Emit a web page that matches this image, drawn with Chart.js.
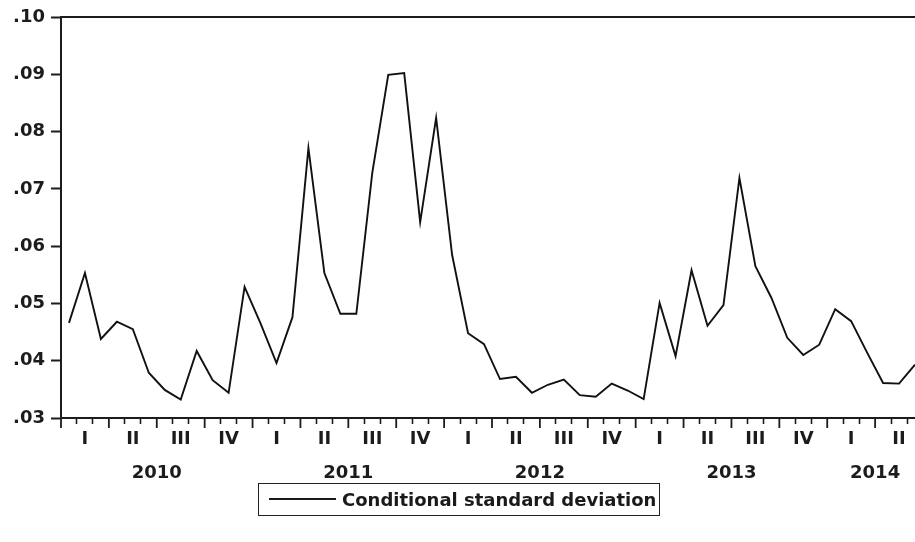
<!DOCTYPE html>
<html>
<head>
<meta charset="utf-8">
<script src="https://cdn.jsdelivr.net/npm/chart.js@4.4.1/dist/chart.umd.min.js"></script>
<style>
  html, body { margin: 0; padding: 0; background: #fff; overflow: hidden; width: 915px; height: 542px; }
  #wrap { position: relative; width: 930px; height: 542px; }
  canvas { position: absolute; left: 0; top: 0; }
  #legend {
    position: absolute; left: 258px; top: 483px; width: 402px; height: 33px;
    box-sizing: border-box; border: 1.5px solid #222;
    font: bold 18px "DejaVu Sans", sans-serif; color: #1a1a1a;
  }
  #legend .swatch { position: absolute; left: 10px; top: 14px; width: 67px; height: 0; border-top: 2px solid #1a1a1a; }
  #legend .text { position: absolute; left: 83px; top: 50%; transform: translateY(-52%); white-space: nowrap; }
</style>
</head>
<body>
<div id="wrap">
  <canvas id="c" width="930" height="542"></canvas>
  <div id="legend"><span class="swatch"></span><span class="text" id="legendText"></span></div>
</div>
<script>
// Monthly conditional standard deviation, January 2010 – June 2014
const seriesName = 'Conditional standard deviation';
const sd2010 = [0.0466, 0.0553, 0.0438, 0.0468, 0.0455, 0.0379, 0.0349, 0.0332, 0.0417, 0.0366, 0.0344, 0.0529];
const sd2011 = [0.0465, 0.0396, 0.0476, 0.0771, 0.0553, 0.0482, 0.0482, 0.0728, 0.0899, 0.0902, 0.0642, 0.0824];
const sd2012 = [0.0585, 0.0448, 0.0429, 0.0368, 0.0372, 0.0344, 0.0358, 0.0367, 0.0340, 0.0337, 0.0360, 0.0348];
const sd2013 = [0.0333, 0.0501, 0.0408, 0.0558, 0.0461, 0.0497, 0.0719, 0.0565, 0.0510, 0.0440, 0.0410, 0.0428];
const sd2014 = [0.0490, 0.0469, 0.0414, 0.0361, 0.0360, 0.0393];

const years = ['2010', '2011', '2012', '2013', '2014'];
const quarterNames = ['I', 'II', 'III', 'IV'];
const yTickValues = [0.03, 0.04, 0.05, 0.06, 0.07, 0.08, 0.09, 0.10];

// Series on a month axis: month i occupies [i, i+1], plotted at its middle
const values = [].concat(sd2010, sd2011, sd2012, sd2013, sd2014);
const nMonths = values.length;
const points = values.map((v, i) => ({ x: i + 0.5, y: v }));

// Month boundaries get tick marks; quarter midpoints carry the roman numerals;
// year names sit at the middle of each year's observed months.
const boundaryTicks = [];
for (let m = 0; m <= nMonths; m++) boundaryTicks.push(m);
const quarterCenters = [];
for (let q = 0; q * 3 < nMonths; q++) quarterCenters.push(q * 3 + 1.5);
const yearCenters = years.map((y, k) => {
  const start = k * 12;
  const end = Math.min(nMonths, start + 12);
  return (start + end) / 2;
});
const xTickValues = boundaryTicks.concat(quarterCenters).sort((a, b) => a - b);

function xLabel(v) {
  const qi = quarterCenters.indexOf(v);
  if (qi >= 0) return quarterNames[qi % 4];
  const yi = yearCenters.indexOf(v);
  if (yi >= 0) return ['', years[yi]];
  return '';
}

const INK = '#1c1c1c';
const FONT = { family: '"DejaVu Sans", sans-serif', size: 18, weight: 'bold' };

// Plot frame (top/right) and the longer marks at quarter boundaries
const framePlugin = {
  id: 'frame',
  afterDraw(chart) {
    const { ctx, chartArea: a, scales } = chart;
    ctx.save();
    ctx.strokeStyle = INK;
    ctx.lineWidth = 2;
    ctx.beginPath();
    ctx.moveTo(a.left, a.top);
    ctx.lineTo(a.right, a.top);
    ctx.lineTo(a.right, a.bottom);
    ctx.stroke();
    ctx.lineWidth = 1.8;
    ctx.beginPath();
    for (let m = 0; m <= nMonths; m += 3) {
      const px = scales.x.getPixelForValue(m);
      ctx.moveTo(px, a.bottom);
      ctx.lineTo(px, a.bottom + 10);
    }
    ctx.stroke();
    ctx.restore();
  }
};

document.getElementById('legendText').textContent = seriesName;

new Chart(document.getElementById('c'), {
  type: 'line',
  data: {
    datasets: [{
      label: seriesName,
      data: points,
      borderColor: '#111',
      borderWidth: 1.9,
      pointRadius: 0,
      tension: 0,
      fill: false
    }]
  },
  options: {
    responsive: false,
    animation: false,
    devicePixelRatio: 1,
    layout: { padding: { top: 17, right: 7, bottom: 0, left: 0 } },
    plugins: { legend: { display: false }, tooltip: { enabled: false } },
    scales: {
      x: {
        type: 'linear',
        min: 0,
        max: nMonths,
        afterBuildTicks: s => { s.ticks = xTickValues.map(v => ({ value: v })); },
        afterFit: s => { s.height = 124; },
        grid: {
          drawOnChartArea: false,
          drawTicks: true,
          tickLength: 6,
          tickWidth: 1.6,
          // month marks only; quarter marks are drawn longer by the frame plugin
          tickColor: c => (c.tick && Number.isInteger(c.tick.value) && c.tick.value % 3 !== 0) ? INK : 'rgba(0,0,0,0)'
        },
        border: { display: true, color: INK, width: 2 },
        ticks: {
          autoSkip: false,
          maxRotation: 0,
          minRotation: 0,
          padding: -2,
          color: INK,
          font: Object.assign({}, FONT, { lineHeight: '34px' }),
          callback: v => xLabel(v)
        }
      },
      y: {
        min: 0.03,
        max: 0.10,
        afterBuildTicks: s => { s.ticks = yTickValues.map(v => ({ value: v })); },
        afterFit: s => { s.width = 61; },
        grid: {
          drawOnChartArea: false,
          drawTicks: true,
          tickLength: 10,
          tickWidth: 2,
          tickColor: INK
        },
        border: { display: true, color: INK, width: 2 },
        ticks: {
          padding: 6,
          color: INK,
          font: FONT,
          callback: v => v.toFixed(2).replace(/^0/, '')
        }
      }
    }
  },
  plugins: [framePlugin]
});
</script>
</body>
</html>
